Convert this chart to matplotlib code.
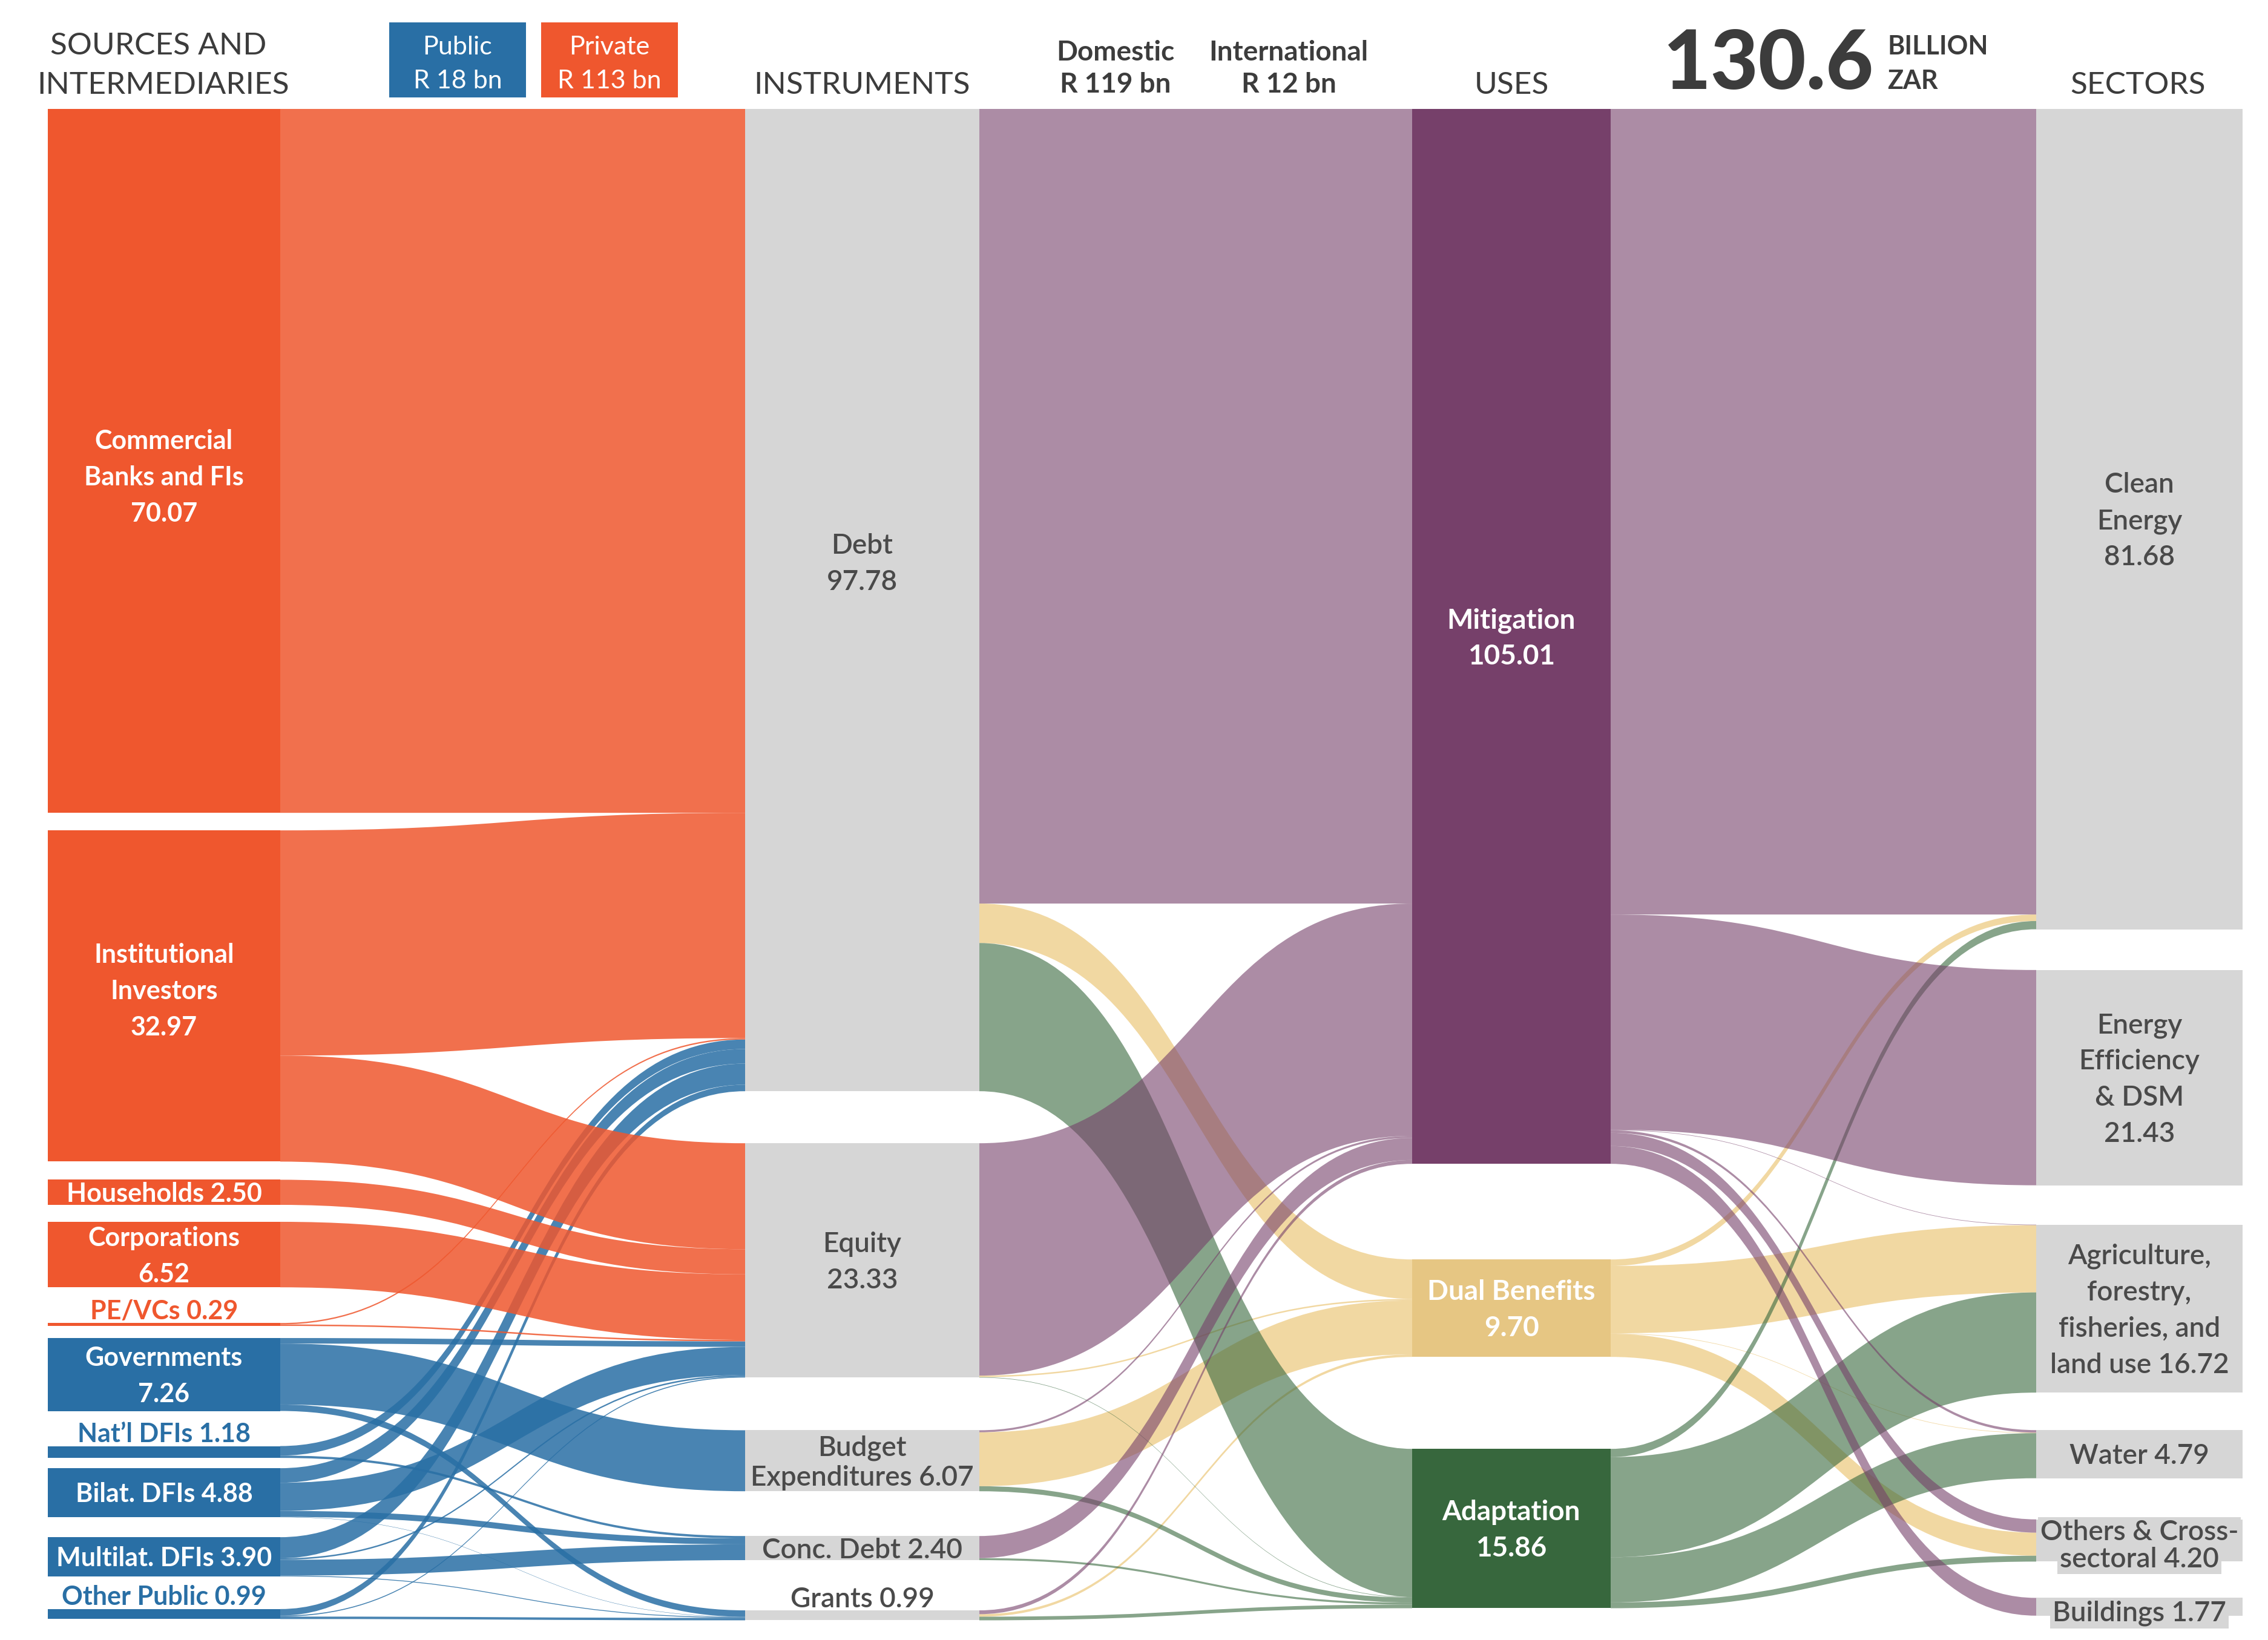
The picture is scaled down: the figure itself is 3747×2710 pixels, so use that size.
import matplotlib
matplotlib.use("Agg")
import matplotlib.pyplot as plt
from matplotlib.path import Path
from matplotlib.patches import PathPatch, Rectangle

plt.rcParams['font.family'] = ['Lato', 'DejaVu Sans']

# ---------------- data (billion ZAR) ----------------
sources = ["Commercial\nBanks and FIs\n{:.2f}", "Institutional\nInvestors\n{:.2f}",
           "Households {:.2f}", "Corporations\n{:.2f}", "PE/VCs {:.2f}",
           "Governments\n{:.2f}", "Nat\u2019l DFIs {:.2f}", "Bilat. DFIs {:.2f}",
           "Multilat. DFIs {:.2f}", "Other Public {:.2f}"]
source_values = [70.07, 32.97, 2.50, 6.52, 0.29, 7.26, 1.18, 4.88, 3.90, 0.99]
source_public = [False, False, False, False, False, True, True, True, True, True]

instruments = ["Debt\n{:.2f}", "Equity\n{:.2f}", "Budget\nExpenditures {:.2f}",
               "Conc. Debt {:.2f}", "Grants {:.2f}"]
instrument_values = [97.78, 23.33, 6.07, 2.40, 0.99]

uses = ["Mitigation\n{:.2f}", "Dual Benefits\n{:.2f}", "Adaptation\n{:.2f}"]
use_values = [105.01, 9.70, 15.86]

sectors = ["Clean\nEnergy\n{:.2f}", "Energy\nEfficiency\n& DSM\n{:.2f}",
           "Agriculture,\nforestry,\nfisheries, and\nland use {:.2f}",
           "Water {:.2f}", "Others & Cross-\nsectoral {:.2f}", "Buildings {:.2f}"]
sector_values = [81.68, 21.43, 16.72, 4.79, 4.20, 1.77]

# rows: sources, cols: Debt, Equity, Budget, Conc. Debt, Grants
source_to_instrument = [
    [70.07, 0.00, 0.00, 0.00, 0.00],
    [22.42, 10.55, 0.00, 0.00, 0.00],
    [0.00, 2.50, 0.00, 0.00, 0.00],
    [0.00, 6.52, 0.00, 0.00, 0.00],
    [0.14, 0.15, 0.00, 0.00, 0.00],
    [0.00, 0.55, 6.07, 0.00, 0.64],
    [0.95, 0.00, 0.00, 0.23, 0.00],
    [1.45, 2.80, 0.00, 0.60, 0.03],
    [2.10, 0.15, 0.00, 1.57, 0.08],
    [0.65, 0.10, 0.00, 0.00, 0.24],
]
# rows: instruments, cols: Mitigation, Dual Benefits, Adaptation
instrument_to_use = [
    [79.10, 3.93, 14.75],
    [23.13, 0.15, 0.05],
    [0.20, 5.37, 0.50],
    [2.20, 0.00, 0.20],
    [0.38, 0.25, 0.36],
]
# rows: uses, cols: sectors
use_to_sector = [
    [80.19, 21.43, 0.05, 0.25, 1.32, 1.77],
    [0.65, 0.00, 6.70, 0.05, 2.30, 0.00],
    [0.82, 0.00, 9.97, 4.49, 0.58, 0.00],
]

# ---------------- style / layout ----------------
PRIVATE = '#EF572E'
PUBLIC = '#296FA5'
GREY = '#D6D6D6'
use_node_colors = ['#76406A', '#E6C683', '#37673D']
use_flow_colors = ['#76406A', '#E9BE64', '#37673D']
TXT = '#3C3C3C'
LBL = '#4A4A4A'

W, H = 3747, 2710
K = 16.6      # pixels per billion
TOP = 180

col_x = {'src': (79, 463), 'ins': (1231, 1618), 'use': (2333, 2661), 'sec': (3364, 3705)}
src_gaps = [29, 30, 28, 59, 20, 58, 17, 33, 54]
ins_gaps = [86, 87, 74, 83]
use_gaps = [158, 152]
sec_gaps = [67, 65, 62, 68, 60]

fig = plt.figure(figsize=(W / 100, H / 100), dpi=100)
ax = fig.add_axes([0, 0, 1, 1])
ax.set_xlim(0, W)
ax.set_ylim(H, 0)
ax.axis('off')


def stack(values, gaps):
    tops, y = [], TOP
    for i, v in enumerate(values):
        if i:
            y += gaps[i - 1]
        tops.append(y)
        y += v * K
    return tops


src_tops = stack(source_values, src_gaps)
ins_tops = stack(instrument_values, ins_gaps)
use_tops = stack(use_values, use_gaps)
sec_tops = stack(sector_values, sec_gaps)


def band(xa, a0, a1, xb, b0, b1, color, alpha):
    xm = (xa + xb) / 2
    verts = [(xa, a0), (xm, a0), (xm, b0), (xb, b0), (xb, b1),
             (xm, b1), (xm, a1), (xa, a1), (xa, a0)]
    codes = [Path.MOVETO, Path.CURVE4, Path.CURVE4, Path.CURVE4, Path.LINETO,
             Path.CURVE4, Path.CURVE4, Path.CURVE4, Path.CLOSEPOLY]
    ax.add_patch(PathPatch(Path(verts, codes), facecolor=color, edgecolor='none',
                           lw=0, alpha=alpha))


def draw_links(flows, tops_a, tops_b, xa, xb, color_of, alpha, order):
    out_off, in_off = list(tops_a), list(tops_b)
    segs = {}
    for i, row in enumerate(flows):
        for j, v in enumerate(row):
            if v > 0:
                segs[(i, j)] = [out_off[i], out_off[i] + v * K]
                out_off[i] += v * K
    for j in range(len(flows[0])):
        for i in range(len(flows)):
            v = flows[i][j]
            if v > 0:
                segs[(i, j)] += [in_off[j], in_off[j] + v * K]
                in_off[j] += v * K
    for key in sorted(segs, key=order):
        a0, a1, b0, b1 = segs[key]
        band(xa, a0, a1, xb, b0, b1, color_of(*key), alpha)


# links
draw_links(source_to_instrument, src_tops, ins_tops, col_x['src'][1], col_x['ins'][0],
           lambda i, j: PUBLIC if source_public[i] else PRIVATE, 0.85,
           lambda k: (0 if source_public[k[0]] else 1, k[0]))
use_rank = {1: 0, 2: 1, 0: 2}
draw_links(instrument_to_use, ins_tops, use_tops, col_x['ins'][1], col_x['use'][0],
           lambda i, j: use_flow_colors[j], 0.6, lambda k: (use_rank[k[1]], k[0]))
draw_links(use_to_sector, use_tops, sec_tops, col_x['use'][1], col_x['sec'][0],
           lambda i, j: use_flow_colors[i], 0.6, lambda k: (use_rank[k[0]], k[1]))


def nodes(values, tops, col, colors):
    x0, x1 = col_x[col]
    for v, t, c in zip(values, tops, colors):
        ax.add_patch(Rectangle((x0, t), x1 - x0, v * K, facecolor=c, edgecolor='none'))


nodes(source_values, src_tops, 'src', [PUBLIC if p else PRIVATE for p in source_public])
nodes(instrument_values, ins_tops, 'ins', [GREY] * 5)
nodes(use_values, use_tops, 'use', use_node_colors)
nodes(sector_values, sec_tops, 'sec', [GREY] * 6)


def text_lines(x, yc, text, size, pitch, color, weight='bold', bg=None, ha='center'):
    lines = text.split('\n')
    n = len(lines)
    cap = 0.72 * size * 100 / 72
    for i, line in enumerate(lines):
        y = yc + (i - (n - 1) / 2) * pitch + cap / 2
        kw = {}
        if bg:
            kw['bbox'] = dict(boxstyle='square,pad=0.08', fc=bg, ec='none')
        ax.text(x, y, line, ha=ha, va='baseline', fontsize=size, color=color,
                fontweight=weight, **kw)


def node_labels(labels, values, tops, col, colors, above=(), dy=None, pitch=60,
                size=31, weight='bold', pitches=None, bgs=None):
    x0, x1 = col_x[col]
    for i, (lab, v, t) in enumerate(zip(labels, values, tops)):
        s = lab.format(v)
        p = pitches.get(i, pitch) if pitches else pitch
        bg = bgs.get(i) if bgs else None
        if i in above:
            text_lines((x0 + x1) / 2, t - 22, s, size, p, colors[i], weight)
        else:
            yc = t + v * K / 2 + (dy.get(i, 0) if dy else 0)
            text_lines((x0 + x1) / 2, yc, s, size, p, colors[i], weight, bg=bg)


src_text_colors = ['white'] * 10
src_text_colors[4] = PRIVATE
src_text_colors[6] = PUBLIC
src_text_colors[9] = PUBLIC
node_labels(sources, source_values, src_tops, 'src', src_text_colors,
            above=(4, 6, 9), dy={0: 25, 1: -10})
node_labels(instruments, instrument_values, ins_tops, 'ins', [LBL] * 5, above=(4,),
            dy={0: -63}, pitches={2: 50}, weight='semibold', size=33)
node_labels(uses, use_values, use_tops, 'use', ['white'] * 3, size=33)
node_labels(sectors, sector_values, sec_tops, 'sec', [LBL] * 6, weight='semibold', size=33,
            pitches={4: 45}, dy={4: 5, 5: 7}, bgs={4: GREY, 5: GREY})

# ---------------- header ----------------
hdr = dict(fontsize=37, color=TXT, ha='center', va='baseline')
ax.text(262, 90, "SOURCES AND", **hdr)
ax.text(270, 155, "INTERMEDIARIES", **hdr)
ax.text(1424, 155, "INSTRUMENTS", **hdr)
ax.text(2497, 155, "USES", **hdr)
ax.text(3532, 155, "SECTORS", **hdr)

for x, top, bottom in [(1843, "Domestic", "R 119 bn"), (2129, "International", "R 12 bn")]:
    ax.text(x, 100, top, fontsize=33, fontweight='bold', color=TXT, ha='center', va='baseline')
    ax.text(x, 153, bottom, fontsize=33, fontweight='bold', color=TXT, ha='center', va='baseline')

for x0, c, top, bottom in [(643, PUBLIC, "Public", "R 18 bn"), (894, PRIVATE, "Private", "R 113 bn")]:
    ax.add_patch(Rectangle((x0, 37), 226, 124, facecolor=c, edgecolor='none'))
    ax.text(x0 + 113, 90, top, fontsize=31, color='white', ha='center', va='baseline')
    ax.text(x0 + 113, 146, bottom, fontsize=31, color='white', ha='center', va='baseline')

ax.text(2748, 147, "130.6", fontsize=98, fontweight='black', color=TXT, ha='left', va='baseline')
ax.text(3118, 90, "BILLION", fontsize=31, fontweight='bold', color=TXT, ha='left', va='baseline')
ax.text(3118, 147, "ZAR", fontsize=31, fontweight='bold', color=TXT, ha='left', va='baseline')

fig.savefig("out.png", dpi=100, facecolor='white')
